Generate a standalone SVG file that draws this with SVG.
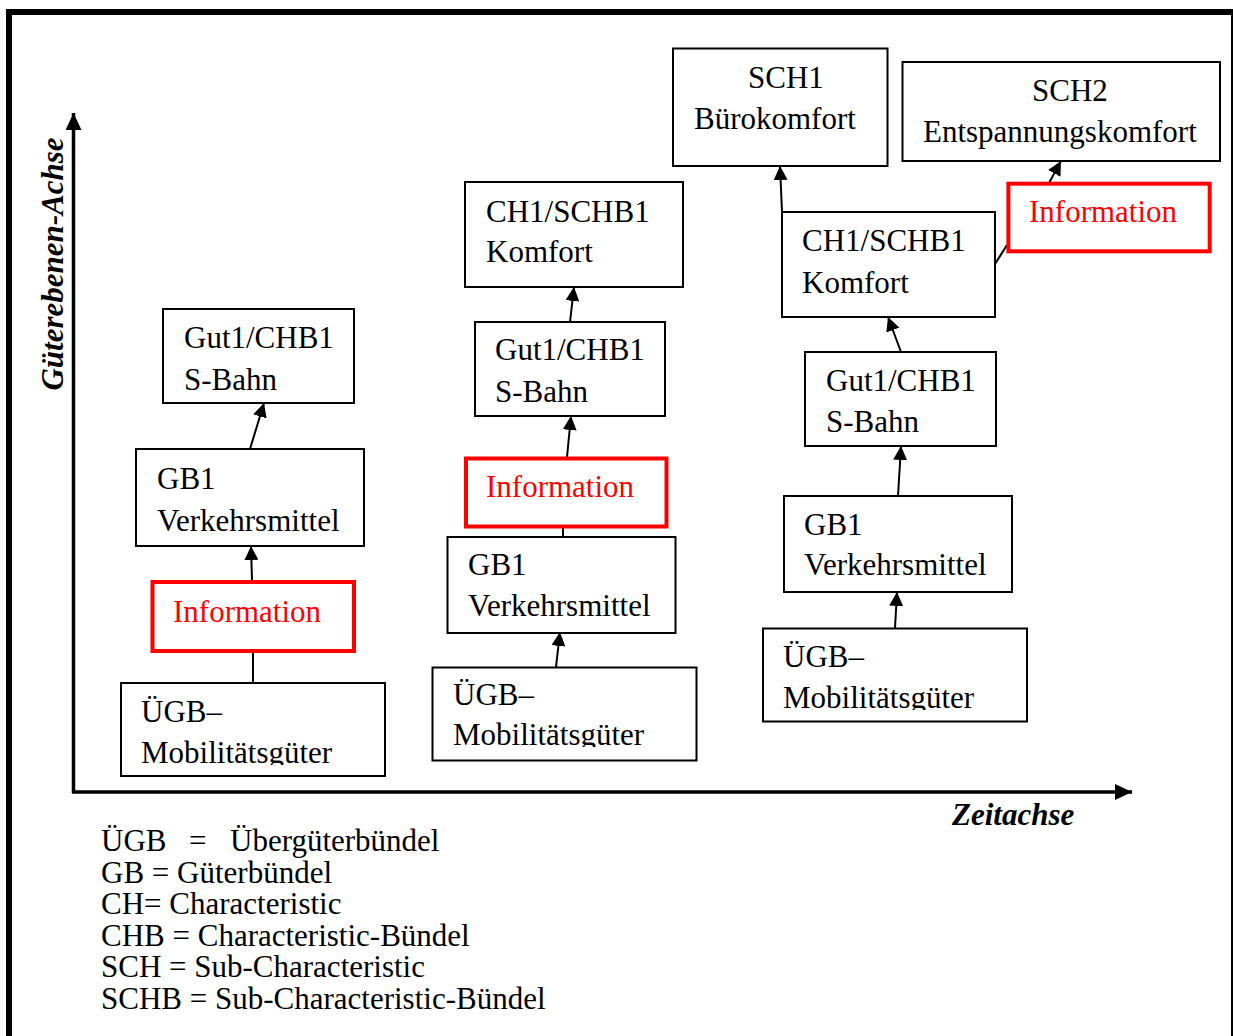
<svg xmlns="http://www.w3.org/2000/svg" width="1233" height="1036" viewBox="0 0 1233 1036">
  <style>
    .box { fill: #ffffff; stroke: #000000; stroke-width: 2; }
    .info { fill: #ffffff; stroke: #ff0000; stroke-width: 4; }
    .t { font-family: "Liberation Serif", "Times New Roman", serif; font-size: 31px; fill: #000000; }
    .tr { font-family: "Liberation Serif", "Times New Roman", serif; font-size: 31px; fill: #ff0000; }
    .axislabel { font-family: "Liberation Serif", "Times New Roman", serif; font-size: 31px; font-weight: bold; font-style: italic; fill: #000000; }
    .legend { font-family: "Liberation Serif", "Times New Roman", serif; font-size: 31px; fill: #000000; }
    .conn { stroke: #000000; stroke-width: 2; fill: none; }
    .axis { stroke: #000000; stroke-width: 3.5; fill: none; }
  </style>
  <defs>
    <marker id="arrow" markerUnits="userSpaceOnUse" markerWidth="14" markerHeight="14" refX="14" refY="7" orient="auto">
      <path d="M0,0 L14,7 L0,14 z" fill="#000000"/>
    </marker>
    <marker id="axisArrow" markerUnits="userSpaceOnUse" markerWidth="17" markerHeight="16" refX="17" refY="8" orient="auto">
      <path d="M0,0 L17,8 L0,16 z" fill="#000000"/>
    </marker>
    <clipPath id="clipUgb1"><rect x="121" y="683" width="264" height="82"/></clipPath>
    <clipPath id="clipUgb2"><rect x="432" y="667" width="265" height="80"/></clipPath>
    <clipPath id="clipUgb3"><rect x="763" y="628" width="265" height="82"/></clipPath>
  </defs>

  <rect x="0" y="0" width="1233" height="1036" fill="#ffffff"/>

  <!-- outer frame -->
  <g id="frame">
    <line x1="6" y1="12" x2="1233" y2="12" stroke="#000000" stroke-width="6"/>
    <line x1="9" y1="9" x2="9" y2="1036" stroke="#000000" stroke-width="6"/>
    <line x1="1232" y1="12" x2="1232" y2="1036" stroke="#000000" stroke-width="2"/>
  </g>

  <!-- axes -->
  <g id="axes">
    <line class="axis" x1="73.5" y1="793" x2="73.5" y2="113" marker-end="url(#axisArrow)"/>
    <line class="axis" x1="72" y1="792" x2="1132" y2="792" marker-end="url(#axisArrow)"/>
    <text class="axislabel" transform="translate(63 264) rotate(-90)" text-anchor="middle">Güterebenen-Achse</text>
    <text class="axislabel" x="952" y="825">Zeitachse</text>
  </g>

  <!-- connectors -->
  <g id="connectors">
    <line class="conn" x1="253" y1="683" x2="253" y2="651"/>
    <line class="conn" x1="252" y1="580" x2="251" y2="546" marker-end="url(#arrow)"/>
    <line class="conn" x1="250" y1="449" x2="264" y2="403" marker-end="url(#arrow)"/>
    <line class="conn" x1="563" y1="537" x2="563" y2="527"/>
    <line class="conn" x1="567" y1="457" x2="571" y2="416" marker-end="url(#arrow)"/>
    <line class="conn" x1="570" y1="322" x2="574" y2="287" marker-end="url(#arrow)"/>
    <line class="conn" x1="556" y1="667" x2="560" y2="632" marker-end="url(#arrow)"/>
    <line class="conn" x1="895" y1="628" x2="897" y2="592" marker-end="url(#arrow)"/>
    <line class="conn" x1="898" y1="496" x2="901" y2="446" marker-end="url(#arrow)"/>
    <line class="conn" x1="901" y1="352" x2="888" y2="317" marker-end="url(#arrow)"/>
    <line class="conn" x1="782" y1="212" x2="780" y2="166" marker-end="url(#arrow)"/>
    <line class="conn" x1="995" y1="264" x2="1007" y2="245"/>
    <line class="conn" x1="1049" y1="183" x2="1061" y2="161" marker-end="url(#arrow)"/>
  </g>

  <!-- column 1 -->
  <g id="c1-gut">
    <rect class="box" x="163" y="309" width="191" height="94"/>
    <text class="t" x="184" y="348">Gut1/CHB1</text>
    <text class="t" x="184" y="390">S-Bahn</text>
  </g>
  <g id="c1-gb">
    <rect class="box" x="136" y="449" width="228" height="97"/>
    <text class="t" x="157" y="489">GB1</text>
    <text class="t" x="157" y="531">Verkehrsmittel</text>
  </g>
  <g id="c1-info">
    <rect class="info" x="152.5" y="582" width="201.5" height="69"/>
    <text class="tr" x="173" y="622">Information</text>
  </g>
  <g id="c1-ugb">
    <rect class="box" x="121" y="683" width="264" height="93"/>
    <g clip-path="url(#clipUgb1)">
      <text class="t" x="141" y="722">ÜGB–</text>
      <text class="t" x="141" y="763">Mobilitätsgüter</text>
    </g>
  </g>

  <!-- column 2 -->
  <g id="c2-ch">
    <rect class="box" x="465" y="182" width="218" height="105"/>
    <text class="t" x="486" y="222">CH1/SCHB1</text>
    <text class="t" x="486" y="262">Komfort</text>
  </g>
  <g id="c2-gut">
    <rect class="box" x="475" y="322" width="190" height="94"/>
    <text class="t" x="495" y="360">Gut1/CHB1</text>
    <text class="t" x="495" y="402">S-Bahn</text>
  </g>
  <g id="c2-info">
    <rect class="info" x="466" y="458.5" width="200.5" height="68"/>
    <text class="tr" x="486" y="497">Information</text>
  </g>
  <g id="c2-gb">
    <rect class="box" x="447.5" y="537" width="228" height="96"/>
    <text class="t" x="468" y="575">GB1</text>
    <text class="t" x="468" y="616">Verkehrsmittel</text>
  </g>
  <g id="c2-ugb">
    <rect class="box" x="432.5" y="667.5" width="264" height="93"/>
    <g clip-path="url(#clipUgb2)">
      <text class="t" x="453" y="705">ÜGB–</text>
      <text class="t" x="453" y="745">Mobilitätsgüter</text>
    </g>
  </g>

  <!-- column 3 -->
  <g id="c3-sch1">
    <rect class="box" x="673" y="48.5" width="214.5" height="117.5"/>
    <text class="t" x="748" y="88">SCH1</text>
    <text class="t" x="694" y="129">Bürokomfort</text>
  </g>
  <g id="c3-sch2">
    <rect class="box" x="902.5" y="62" width="317.5" height="99"/>
    <text class="t" x="1032" y="101">SCH2</text>
    <text class="t" x="923" y="142">Entspannungskomfort</text>
  </g>
  <g id="c3-info">
    <rect class="info" x="1008.4" y="183.7" width="201.3" height="67.6"/>
    <text class="tr" x="1029" y="222">Information</text>
  </g>
  <g id="c3-ch">
    <rect class="box" x="782" y="212" width="213" height="105"/>
    <text class="t" x="802" y="251">CH1/SCHB1</text>
    <text class="t" x="802" y="293">Komfort</text>
  </g>
  <g id="c3-gut">
    <rect class="box" x="805" y="352" width="191" height="94"/>
    <text class="t" x="826" y="391">Gut1/CHB1</text>
    <text class="t" x="826" y="432">S-Bahn</text>
  </g>
  <g id="c3-gb">
    <rect class="box" x="784" y="496" width="228" height="96"/>
    <text class="t" x="804" y="535">GB1</text>
    <text class="t" x="804" y="575">Verkehrsmittel</text>
  </g>
  <g id="c3-ugb">
    <rect class="box" x="763" y="628.5" width="264" height="93"/>
    <g clip-path="url(#clipUgb3)">
      <text class="t" x="783" y="667">ÜGB–</text>
      <text class="t" x="783" y="708">Mobilitätsgüter</text>
    </g>
  </g>

  <!-- abbreviations -->
  <g id="legend">
    <text class="legend" y="851"><tspan x="101">ÜGB</tspan><tspan x="189">=</tspan><tspan x="230">Übergüterbündel</tspan></text>
    <text class="legend" x="101" y="883">GB = Güterbündel</text>
    <text class="legend" x="101" y="914">CH= Characteristic</text>
    <text class="legend" x="101" y="946">CHB = Characteristic-Bündel</text>
    <text class="legend" x="101" y="977">SCH = Sub-Characteristic</text>
    <text class="legend" x="101" y="1009">SCHB = Sub-Characteristic-Bündel</text>
  </g>
</svg>
